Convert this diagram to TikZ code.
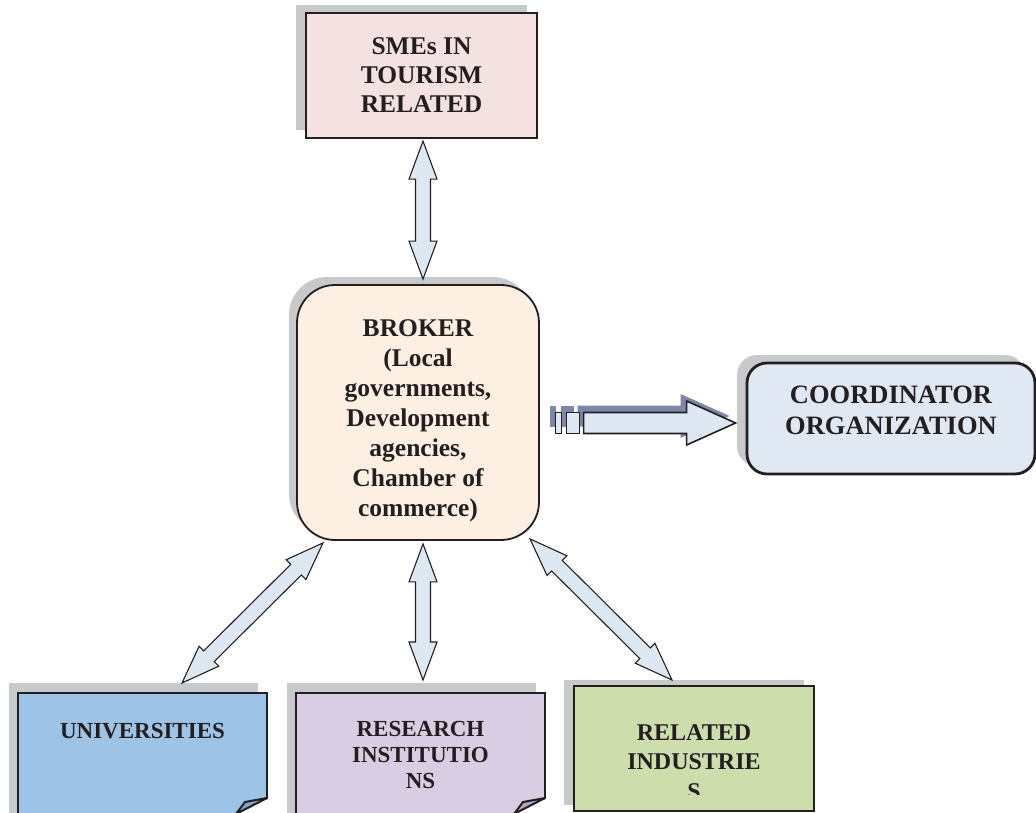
\documentclass[tikz,border=0pt]{standalone}
\usepackage{fontspec}
\setmainfont{Liberation Serif}
\usetikzlibrary{calc,positioning,shadows}

\definecolor{smepink}{HTML}{F4E1E1}
\definecolor{brokerpeach}{HTML}{FDEFE2}
\definecolor{coordblue}{HTML}{DFE8F3}
\definecolor{univblue}{HTML}{9DC3E6}
\definecolor{univfold}{HTML}{7DA5CF}
\definecolor{reslilac}{HTML}{D9CDE3}
\definecolor{resfold}{HTML}{B4A4C6}
\definecolor{indgreen}{HTML}{CDDDAC}
\definecolor{shadowgray}{HTML}{C8C9CB}
\definecolor{arrowfill}{HTML}{DDE8F3}
\definecolor{arrowshadow}{HTML}{7F87A9}
\definecolor{inkblack}{HTML}{231F20}

\tikzset{
  box/.style={shape=rectangle, draw=inkblack, line width=2.2pt, inner sep=0pt,
    align=center, text=inkblack, font=\bfseries\fontsize{25.5}{29}\selectfont},
  greyshadow/.style 2 args={drop shadow={shadow xshift=#1, shadow yshift=#2,
    fill=shadowgray, opacity=1}},
  boxtext/.style={inner sep=0pt, align=center, text=inkblack,
    font=\bfseries\fontsize{23}{26}\selectfont},
  blockarrow/.style={draw=inkblack, line width=1.1pt, fill=arrowfill, line join=miter},
}

% block arrow with a head at both ends
\newcommand{\headlen}{38pt}
\newcommand{\headhw}{14pt}
\newcommand{\shafthw}{7.5pt}
\newcommand{\dblarrow}[2]{%
  \draw[blockarrow] (#1)
    -- ($(#1)!\headlen!(#2)!\headhw!90:(#2)$)
    -- ($(#1)!\headlen!(#2)!\shafthw!90:(#2)$)
    -- ($(#2)!\headlen!(#1)!\shafthw!-90:(#1)$)
    -- ($(#2)!\headlen!(#1)!\headhw!-90:(#1)$)
    -- (#2)
    -- ($(#2)!\headlen!(#1)!\headhw!90:(#1)$)
    -- ($(#2)!\headlen!(#1)!\shafthw!90:(#1)$)
    -- ($(#1)!\headlen!(#2)!\shafthw!-90:(#2)$)
    -- ($(#1)!\headlen!(#2)!\headhw!-90:(#2)$)
    -- cycle;}

\begin{document}
\begin{tikzpicture}[x=1pt, y=-1pt]
    \useasboundingbox (0,0) rectangle (1036,813);
    \clip (0,0) rectangle (1036,813);

    % boxes
    \node[box, fill=smepink, minimum width=231pt, minimum height=125pt,
      greyshadow={-10pt}{8pt}] (sme) at (421.5,75.5) {SMEs IN\\TOURISM\\RELATED};
    \node[box, fill=brokerpeach, minimum width=242pt, minimum height=255pt,
      rounded corners=38pt, line width=1.8pt, greyshadow={-8pt}{8pt},
      font=\bfseries\fontsize{25.5}{30}\selectfont] (broker) at (418,412.5)
      {\rule{0pt}{34pt}BROKER\\(Local\\governments,\\Development\\agencies,\\Chamber of\\commerce)};
    \node[box, fill=coordblue, minimum width=288pt, minimum height=111pt,
      rounded corners=20pt, line width=2.8pt, greyshadow={-10pt}{8pt},
      font=\bfseries\fontsize{26.5}{31}\selectfont] (coord) at (891,418.5)
      {COORDINATOR\\ORGANIZATION\rule[-16pt]{0pt}{0pt}};

    \node[box, fill=univblue, minimum width=249pt, minimum height=140pt,
      anchor=north, greyshadow={-9pt}{10pt}] (univ) at (142.5,692) {};
    \node[box, fill=reslilac, minimum width=249pt, minimum height=140pt,
      anchor=north, greyshadow={-9pt}{10pt}] (research) at (420.5,692) {};
    \node[box, fill=indgreen, minimum width=240pt, minimum height=125pt,
      anchor=north, greyshadow={-10pt}{6pt}] (industry) at (694,685) {};

    % folded corners
    \fill[white] (269.5,798) -- (269.5,816) -- (232,816) -- cycle;
    \draw[inkblack, line width=2pt, fill=univfold, line join=round]
      (267,798) -- (245,802) -- (236,814) -- cycle;
    \fill[white] (547.5,798) -- (547.5,816) -- (510,816) -- cycle;
    \draw[inkblack, line width=2pt, fill=resfold, line join=round]
      (545,798) -- (523,802) -- (514,814) -- cycle;

    \node[boxtext, below=31.5pt of univ.north] (univtxt) {UNIVERSITIES};
    \node[boxtext, below=29.5pt of research.north] (restxt) {RESEARCH\\INSTITUTIO\\NS};
    \begin{scope}
      \clip (560,685) rectangle (830,794);
      \node[boxtext, font=\bfseries\fontsize{24}{29.5}\selectfont,
        below=39pt of industry.north] (indtxt) {RELATED\\INDUSTRIE\\S};
    \end{scope}

    % arrow ends
    \coordinate (a1) at ($(sme.south)+(1.5,2)$);
    \coordinate (b1) at ($(broker.north)+(5,-5)$);
    \coordinate (a2) at ($(broker.south)+(-95,2)$);
    \coordinate (b2) at ($(univ.north)+(39.5,-9)$);
    \coordinate (a3) at ($(broker.south)+(5,3)$);
    \coordinate (b3) at ($(research.north)+(2.5,-12)$);
    \coordinate (a4) at ($(broker.south)+(112,-2)$);
    \coordinate (b4) at ($(industry.north)+(-22,-5)$);

    \dblarrow{a1}{b1}
    \dblarrow{a2}{b2}
    \dblarrow{a3}{b3}
    \dblarrow{a4}{b4}

    % broker to coordinator
    \coordinate (tip) at ($(coord.west)+(-10,4.5)$);
    \begin{scope}[shift={(tip)}]
      \begin{scope}[shift={(-6,-7)}]
        \fill[arrowshadow] (-152,-10.5) -- (-49,-10.5) -- (-49,-22) -- (0,0)
          -- (-49,22) -- (-49,10.5) -- (-152,10.5) -- cycle;
        \fill[arrowshadow] (-180,-10.5) rectangle (-174,10.5);
        \fill[arrowshadow] (-169,-10.5) rectangle (-156,10.5);
      \end{scope}
      \draw[blockarrow, line width=1.6pt] (-152,-10.5) -- (-49,-10.5) -- (-49,-22) -- (0,0)
        -- (-49,22) -- (-49,10.5) -- (-152,10.5) -- cycle;
      \draw[blockarrow, line width=1.6pt] (-180,-10.5) rectangle (-174,10.5);
      \draw[blockarrow, line width=1.6pt] (-169,-10.5) rectangle (-156,10.5);
    \end{scope}
\end{tikzpicture}
\end{document}
